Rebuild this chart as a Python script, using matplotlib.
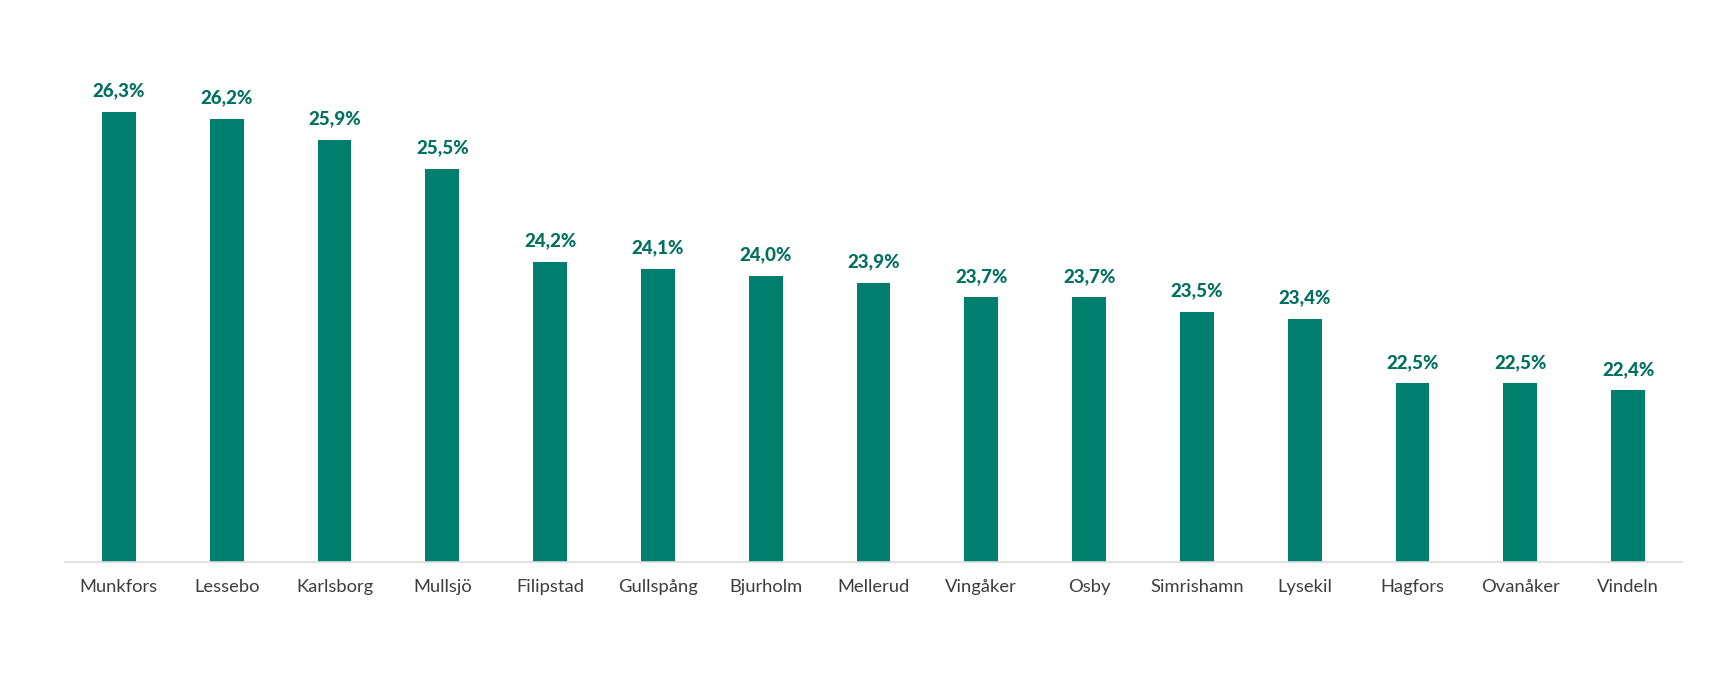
import matplotlib
matplotlib.use("Agg")
import matplotlib.pyplot as plt

# data
kommuner = ["Munkfors", "Lessebo", "Karlsborg", "Mullsjö", "Filipstad", "Gullspång",
            "Bjurholm", "Mellerud", "Vingåker", "Osby", "Simrishamn", "Lysekil",
            "Hagfors", "Ovanåker", "Vindeln"]
andel = [26.3, 26.2, 25.9, 25.5, 24.2, 24.1, 24.0, 23.9, 23.7, 23.7, 23.5, 23.4,
         22.5, 22.5, 22.4]

bar_color = "#007F6E"
label_color = "#00705F"

W, H = 1717, 676
fig = plt.figure(figsize=(W / 100, H / 100), dpi=100)
ax = fig.add_axes([65 / W, (H - 562) / H, (1682 - 65) / W, (562 - 40) / H])

x = list(range(len(kommuner)))
bars = ax.bar(x, andel, width=0.315, color=bar_color, zorder=2)

for xi, v in zip(x, andel):
    txt = f"{v:.1f}%".replace(".", ",")
    ax.annotate(txt, (xi, v), xytext=(0, 9), textcoords="offset points",
                ha="center", va="bottom", fontsize=13.5, fontweight=900,
                color=label_color, family="Lato")

ax.set_xlim(-0.5, len(kommuner) - 0.5)
ax.set_ylim(20, 27.3)
ax.set_xticks(x)
ax.set_xticklabels(kommuner, fontsize=13.2, color="#3d3d3d", family="Lato")
ax.tick_params(axis="x", length=0, pad=12)
ax.set_yticks([])

for side in ["top", "right", "left"]:
    ax.spines[side].set_visible(False)
ax.spines["bottom"].set_color("#dddddd")
ax.spines["bottom"].set_linewidth(1.2)

fig.savefig("out.png", dpi=100)
